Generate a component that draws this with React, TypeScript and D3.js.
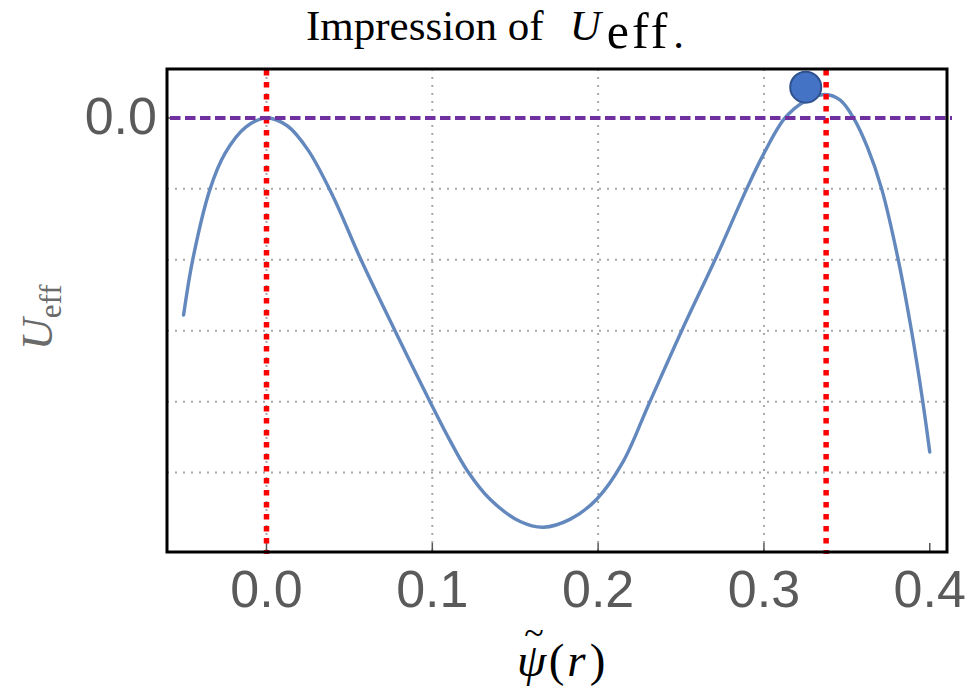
import React from 'react';
import * as d3 from 'd3';

// curve samples (psi, U_eff in grid units)
const psi = [-0.05, -0.0445, -0.034, -0.025, -0.0125, 0, 0.0125, 0.025, 0.04, 0.057, 0.0775, 0.0986, 0.1107, 0.121, 0.135, 0.153, 0.167, 0.183, 0.199, 0.215, 0.2303, 0.2504, 0.2715, 0.2896, 0.3, 0.3127, 0.325, 0.337, 0.346, 0.354, 0.3625, 0.371, 0.381, 0.389, 0.3958, 0.4];
const ueff = [-2.78, -2.0, -1.0, -0.5, -0.13, 0, -0.11, -0.45, -1.1, -2.0, -3.0, -4.0, -4.55, -4.97, -5.38, -5.69, -5.77, -5.66, -5.38, -4.85, -4.05, -3.0, -1.95, -1.0, -0.5, 0, 0.24, 0.33, 0.25, 0, -0.42, -1.0, -2.0, -3.0, -4.0, -4.71];

const xTicks = [0, 0.1, 0.2, 0.3, 0.4];
const xTickLabels = ['0.0', '0.1', '0.2', '0.3', '0.4'];
const xGrid = [0, 0.1, 0.2, 0.3];
const yGrid = [-1, -2, -3, -4, -5];
const yTicks = [0];
const yTickLabels = ['0.0'];
const redLines = [0, 0.3375];
const purpleLevel = [0];
const marker = [{ x: 0.3252, y: 0.434 }];

const W = 969;
const H = 687;
const left = 167, right = 947, top = 69, bottom = 552;

export default function App() {
  const x = d3.scaleLinear().domain([-0.06, 0.4104]).range([left, right]);
  const y = d3.scaleLinear().domain([-6.12, 0.69]).range([bottom, top]);
  const pts = psi.map((p, i) => [p, ueff[i]] as [number, number]);
  const line = d3.line<[number, number]>()
    .x(d => x(d[0]))
    .y(d => y(d[1]))
    .curve(d3.curveCatmullRom.alpha(0.5));

  const gridStyle = { stroke: '#a8a8a8', strokeWidth: 2, strokeDasharray: '2,6' };
  const tickFont = "'Liberation Sans', Arial, sans-serif";
  const serif = "'Liberation Serif', 'Times New Roman', serif";

  return (
    <svg width={W} height={H} style={{ position: 'absolute', left: 0, top: 0, background: '#fff' }}>
      {/* title */}
      <text x={306} y={40} fontFamily={serif} fontSize={43} fill="#000">
        <tspan>Impression of</tspan>
        <tspan fontStyle="italic" dx={26}>U</tspan>
        <tspan dx={6} dy={8} fontSize={50} letterSpacing={3}>eff</tspan>
        <tspan dx={3}>.</tspan>
      </text>

      {/* grid */}
      {yGrid.map(v => (
        <line key={'yg' + v} x1={left} x2={right} y1={y(v)} y2={y(v)} {...gridStyle} />
      ))}
      {xGrid.map(v => (
        <line key={'xg' + v} x1={x(v)} x2={x(v)} y1={top} y2={bottom} {...gridStyle} />
      ))}

      {/* ticks */}
      {xTicks.map(v => (
        <line key={'xt' + v} x1={x(v)} x2={x(v)} y1={bottom} y2={bottom - 9} stroke="#555" strokeWidth={1.5} />
      ))}
      {yTicks.map(v => (
        <line key={'yt' + v} x1={left} x2={left + 9} y1={y(v)} y2={y(v)} stroke="#555" strokeWidth={1.5} />
      ))}

      {/* curve */}
      <path d={line(pts) || ''} fill="none" stroke="#6388be" strokeWidth={3.4} strokeLinecap="round" />

      {/* red dotted verticals */}
      {redLines.map(v => (
        <line key={'r' + v} x1={x(v)} x2={x(v)} y1={top + 1} y2={bottom + 2} stroke="#ff0000" strokeWidth={5.5} strokeDasharray="5.5,6.5" />
      ))}

      {/* purple dashed horizontal */}
      {purpleLevel.map(v => (
        <line key={'p' + v} x1={170} x2={952} y1={y(v)} y2={y(v)} stroke="#7030a0" strokeWidth={4} strokeDasharray="10.5,4.5" />
      ))}

      {/* frame */}
      <rect x={left} y={top} width={right - left} height={bottom - top} fill="none" stroke="#000" strokeWidth={3} />

      {/* marker */}
      {marker.map((m, i) => (
        <circle key={'m' + i} cx={x(m.x)} cy={y(m.y)} r={15.5} fill="#4472c4" stroke="#2f528f" strokeWidth={2} />
      ))}

      {/* tick labels */}
      {xTicks.map((v, i) => (
        <text key={'xl' + v} x={x(v)} y={607} textAnchor="middle" fontFamily={tickFont} fontSize={52} fill="#5a5a5a">{xTickLabels[i]}</text>
      ))}
      {yTicks.map((v, i) => (
        <text key={'yl' + v} x={157} y={y(v) + 16} textAnchor="end" fontFamily={tickFont} fontSize={52} fill="#5a5a5a">{yTickLabels[i]}</text>
      ))}

      {/* y axis title */}
      <text transform="translate(52,350) rotate(-90)" textAnchor="start" fontFamily={serif} fill="#6a6a6a">
        <tspan fontStyle="italic" fontSize={44}>U</tspan>
        <tspan fontSize={31} dy={9}>eff</tspan>
      </text>

      {/* x axis title, tilde drawn over the psi inside the same text */}
      <text x={517} y={676} fontFamily={serif} fontSize={47} fill="#000">
        <tspan fontStyle="italic">ψ</tspan>
        <tspan fontSize={36} dx={-22} dy={-31}>~</tspan>
        <tspan dx={5} dy={31}>(</tspan>
        <tspan fontStyle="italic" dx={3}>r</tspan>
        <tspan dx={4}>)</tspan>
      </text>
    </svg>
  );
}
